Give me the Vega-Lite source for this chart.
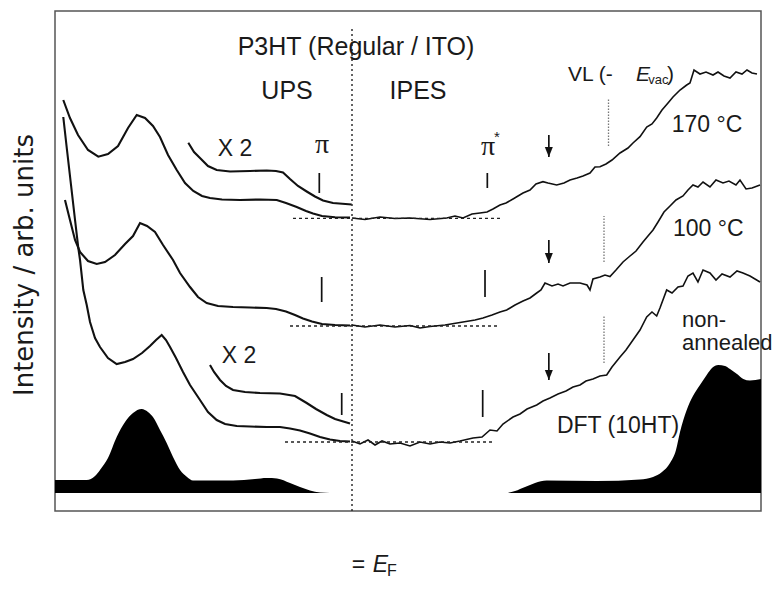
{
  "$schema": "https://vega.github.io/schema/vega-lite/v6.json",
  "width": 706,
  "height": 500,
  "autosize": "none",
  "padding": {"left": 55, "top": 11, "right": 17, "bottom": 101},
  "background": "white",
  "config": {"view": {"stroke": "#555", "strokeWidth": 1.5}, "axis": {"zindex": 1}},
  "datasets": {
    "curves": [
      {"s":"u170","x":4.741,"y":411},{"s":"u170","x":4.631,"y":393},{"s":"u170","x":4.499,"y":376},{"s":"u170","x":4.335,"y":361},{"s":"u170","x":4.166,"y":354.3},{"s":"u170","x":4.007,"y":357},{"s":"u170","x":3.842,"y":365},{"s":"u170","x":3.678,"y":383},{"s":"u170","x":3.535,"y":396},{"s":"u170","x":3.399,"y":393},{"s":"u170","x":3.268,"y":385},{"s":"u170","x":3.153,"y":374},{"s":"u170","x":3.021,"y":356},{"s":"u170","x":2.878,"y":341},{"s":"u170","x":2.742,"y":328},{"s":"u170","x":2.606,"y":320},{"s":"u170","x":2.463,"y":315},{"s":"u170","x":2.332,"y":313},{"s":"u170","x":2.135,"y":311.5},{"s":"u170","x":1.839,"y":311},{"s":"u170","x":1.511,"y":311.5},{"s":"u170","x":1.236,"y":311},{"s":"u170","x":1.084,"y":308},{"s":"u170","x":0.908,"y":304},{"s":"u170","x":0.755,"y":300},{"s":"u170","x":0.640,"y":297.5},{"s":"u170","x":0.493,"y":295},{"s":"u170","x":0.279,"y":293.7},{"s":"u170","x":0.033,"y":293.5},
      {"s":"x170","x":2.688,"y":368.3},{"s":"x170","x":2.594,"y":359},{"s":"x170","x":2.496,"y":353},{"s":"x170","x":2.365,"y":345},{"s":"x170","x":2.222,"y":341},{"s":"x170","x":2.003,"y":339.5},{"s":"x170","x":1.675,"y":340},{"s":"x170","x":1.401,"y":340.5},{"s":"x170","x":1.248,"y":340},{"s":"x170","x":1.133,"y":338.5},{"s":"x170","x":1.018,"y":332},{"s":"x170","x":0.887,"y":325},{"s":"x170","x":0.744,"y":319.5},{"s":"x170","x":0.608,"y":314.5},{"s":"x170","x":0.476,"y":310.5},{"s":"x170","x":0.312,"y":308},{"s":"x170","x":0.005,"y":306.5},
      {"s":"i170","x":0,"y":293},{"s":"i170","x":-0.213,"y":291.5},{"s":"i170","x":-0.46,"y":294},{"s":"i170","x":-0.706,"y":292.5},{"s":"i170","x":-0.952,"y":293},{"s":"i170","x":-1.281,"y":291.5},{"s":"i170","x":-1.555,"y":293},{"s":"i170","x":-1.691,"y":295},{"s":"i170","x":-1.823,"y":293},{"s":"i170","x":-1.97,"y":297},{"s":"i170","x":-2.102,"y":298},{"s":"i170","x":-2.217,"y":299},{"s":"i170","x":-2.315,"y":302},{"s":"i170","x":-2.43,"y":306},{"s":"i170","x":-2.529,"y":308},{"s":"i170","x":-2.644,"y":312},{"s":"i170","x":-2.726,"y":315},{"s":"i170","x":-2.808,"y":318},{"s":"i170","x":-2.923,"y":321},{"s":"i170","x":-3.021,"y":327},{"s":"i170","x":-3.136,"y":329.3},{"s":"i170","x":-3.218,"y":328},{"s":"i170","x":-3.361,"y":326},{"s":"i170","x":-3.481,"y":328},{"s":"i170","x":-3.58,"y":331},{"s":"i170","x":-3.695,"y":333},{"s":"i170","x":-3.793,"y":335},{"s":"i170","x":-3.908,"y":338},{"s":"i170","x":-3.99,"y":344},{"s":"i170","x":-4.072,"y":344.3},{"s":"i170","x":-4.171,"y":347},{"s":"i170","x":-4.269,"y":351},{"s":"i170","x":-4.401,"y":358},{"s":"i170","x":-4.532,"y":363},{"s":"i170","x":-4.614,"y":368},{"s":"i170","x":-4.729,"y":374.3},{"s":"i170","x":-4.839,"y":384},{"s":"i170","x":-4.926,"y":387},{"s":"i170","x":-5.003,"y":393},{"s":"i170","x":-5.09,"y":401},{"s":"i170","x":-5.189,"y":408},{"s":"i170","x":-5.271,"y":414},{"s":"i170","x":-5.386,"y":421},{"s":"i170","x":-5.496,"y":426},{"s":"i170","x":-5.55,"y":428},{"s":"i170","x":-5.616,"y":441},{"s":"i170","x":-5.714,"y":437},{"s":"i170","x":-5.813,"y":439},{"s":"i170","x":-5.928,"y":436},{"s":"i170","x":-6.01,"y":439},{"s":"i170","x":-6.108,"y":435},{"s":"i170","x":-6.207,"y":433},{"s":"i170","x":-6.305,"y":439},{"s":"i170","x":-6.404,"y":437},{"s":"i170","x":-6.486,"y":441},{"s":"i170","x":-6.568,"y":438},{"s":"i170","x":-6.65,"y":437},
      {"s":"u100","x":4.713,"y":311},{"s":"u100","x":4.631,"y":291},{"s":"u100","x":4.548,"y":271},{"s":"u100","x":4.466,"y":259},{"s":"u100","x":4.335,"y":250},{"s":"u100","x":4.192,"y":247},{"s":"u100","x":4.056,"y":249},{"s":"u100","x":3.892,"y":256},{"s":"u100","x":3.727,"y":267},{"s":"u100","x":3.596,"y":275},{"s":"u100","x":3.481,"y":288},{"s":"u100","x":3.366,"y":285},{"s":"u100","x":3.235,"y":279},{"s":"u100","x":3.103,"y":266},{"s":"u100","x":2.939,"y":251},{"s":"u100","x":2.824,"y":238},{"s":"u100","x":2.66,"y":224},{"s":"u100","x":2.529,"y":214},{"s":"u100","x":2.386,"y":208},{"s":"u100","x":2.2,"y":205},{"s":"u100","x":1.954,"y":204},{"s":"u100","x":1.675,"y":203.5},{"s":"u100","x":1.401,"y":203},{"s":"u100","x":1.248,"y":202},{"s":"u100","x":1.084,"y":199.5},{"s":"u100","x":0.936,"y":196},{"s":"u100","x":0.805,"y":192.5},{"s":"u100","x":0.657,"y":189.5},{"s":"u100","x":0.493,"y":187},{"s":"u100","x":0.279,"y":186},{"s":"u100","x":0.033,"y":185.5},
      {"s":"i100","x":0,"y":186},{"s":"i100","x":-0.213,"y":184},{"s":"i100","x":-0.46,"y":186},{"s":"i100","x":-0.706,"y":184},{"s":"i100","x":-0.952,"y":185.5},{"s":"i100","x":-1.117,"y":183},{"s":"i100","x":-1.281,"y":184.5},{"s":"i100","x":-1.527,"y":186},{"s":"i100","x":-1.823,"y":189},{"s":"i100","x":-2.02,"y":191},{"s":"i100","x":-2.151,"y":193},{"s":"i100","x":-2.299,"y":196},{"s":"i100","x":-2.43,"y":199},{"s":"i100","x":-2.54,"y":201},{"s":"i100","x":-2.677,"y":206},{"s":"i100","x":-2.808,"y":210},{"s":"i100","x":-2.923,"y":213},{"s":"i100","x":-3.033,"y":218},{"s":"i100","x":-3.103,"y":221},{"s":"i100","x":-3.169,"y":228},{"s":"i100","x":-3.284,"y":225},{"s":"i100","x":-3.383,"y":227},{"s":"i100","x":-3.465,"y":225},{"s":"i100","x":-3.58,"y":228},{"s":"i100","x":-3.744,"y":228},{"s":"i100","x":-3.859,"y":226},{"s":"i100","x":-3.908,"y":221},{"s":"i100","x":-3.957,"y":232},{"s":"i100","x":-4.072,"y":234},{"s":"i100","x":-4.154,"y":236},{"s":"i100","x":-4.236,"y":234.5},{"s":"i100","x":-4.335,"y":241},{"s":"i100","x":-4.45,"y":249},{"s":"i100","x":-4.565,"y":255},{"s":"i100","x":-4.664,"y":260},{"s":"i100","x":-4.778,"y":269},{"s":"i100","x":-4.86,"y":275},{"s":"i100","x":-4.943,"y":281},{"s":"i100","x":-5.025,"y":289},{"s":"i100","x":-5.123,"y":299},{"s":"i100","x":-5.222,"y":305},{"s":"i100","x":-5.32,"y":311},{"s":"i100","x":-5.435,"y":315},{"s":"i100","x":-5.517,"y":321},{"s":"i100","x":-5.599,"y":326},{"s":"i100","x":-5.681,"y":324},{"s":"i100","x":-5.764,"y":329},{"s":"i100","x":-5.878,"y":324},{"s":"i100","x":-5.977,"y":331},{"s":"i100","x":-6.092,"y":328},{"s":"i100","x":-6.19,"y":330},{"s":"i100","x":-6.305,"y":326},{"s":"i100","x":-6.371,"y":331},{"s":"i100","x":-6.47,"y":322},{"s":"i100","x":-6.568,"y":323},{"s":"i100","x":-6.7,"y":326},
      {"s":"unon","x":4.741,"y":394},{"s":"unon","x":4.68,"y":361},{"s":"unon","x":4.614,"y":326},{"s":"unon","x":4.548,"y":291},{"s":"unon","x":4.494,"y":263},{"s":"unon","x":4.466,"y":251},{"s":"unon","x":4.412,"y":221},{"s":"unon","x":4.356,"y":206},{"s":"unon","x":4.302,"y":189},{"s":"unon","x":4.22,"y":173},{"s":"unon","x":4.138,"y":164},{"s":"unon","x":4.007,"y":153},{"s":"unon","x":3.864,"y":147},{"s":"unon","x":3.727,"y":149},{"s":"unon","x":3.596,"y":152},{"s":"unon","x":3.448,"y":158},{"s":"unon","x":3.317,"y":165},{"s":"unon","x":3.218,"y":171},{"s":"unon","x":3.125,"y":176},{"s":"unon","x":3.054,"y":171},{"s":"unon","x":2.988,"y":164},{"s":"unon","x":2.89,"y":153},{"s":"unon","x":2.775,"y":139},{"s":"unon","x":2.66,"y":126},{"s":"unon","x":2.496,"y":111},{"s":"unon","x":2.365,"y":99},{"s":"unon","x":2.222,"y":91},{"s":"unon","x":2.085,"y":87},{"s":"unon","x":1.893,"y":85},{"s":"unon","x":1.675,"y":84.5},{"s":"unon","x":1.401,"y":84},{"s":"unon","x":1.182,"y":84},{"s":"unon","x":1.018,"y":82.5},{"s":"unon","x":0.854,"y":80.5},{"s":"unon","x":0.69,"y":77.5},{"s":"unon","x":0.525,"y":74},{"s":"unon","x":0.361,"y":71.5},{"s":"unon","x":0.197,"y":70},{"s":"unon","x":0.033,"y":69.5},
      {"s":"xnon","x":2.332,"y":146},{"s":"xnon","x":2.266,"y":139},{"s":"xnon","x":2.167,"y":131},{"s":"xnon","x":2.069,"y":125},{"s":"xnon","x":1.954,"y":121},{"s":"xnon","x":1.757,"y":119},{"s":"xnon","x":1.511,"y":118},{"s":"xnon","x":1.182,"y":117.5},{"s":"xnon","x":0.936,"y":115},{"s":"xnon","x":0.744,"y":108},{"s":"xnon","x":0.591,"y":102},{"s":"xnon","x":0.415,"y":96},{"s":"xnon","x":0.279,"y":92},{"s":"xnon","x":0.033,"y":87.5},
      {"s":"inon","x":0,"y":70},{"s":"inon","x":-0.131,"y":67},{"s":"inon","x":-0.263,"y":71},{"s":"inon","x":-0.378,"y":66},{"s":"inon","x":-0.493,"y":70},{"s":"inon","x":-0.624,"y":67},{"s":"inon","x":-0.788,"y":68},{"s":"inon","x":-0.952,"y":65},{"s":"inon","x":-1.117,"y":69},{"s":"inon","x":-1.281,"y":67},{"s":"inon","x":-1.445,"y":69},{"s":"inon","x":-1.609,"y":68},{"s":"inon","x":-1.773,"y":70},{"s":"inon","x":-1.987,"y":73},{"s":"inon","x":-2.135,"y":74},{"s":"inon","x":-2.266,"y":81},{"s":"inon","x":-2.381,"y":80},{"s":"inon","x":-2.479,"y":87},{"s":"inon","x":-2.644,"y":94},{"s":"inon","x":-2.759,"y":97},{"s":"inon","x":-2.874,"y":102},{"s":"inon","x":-3.033,"y":106},{"s":"inon","x":-3.136,"y":110},{"s":"inon","x":-3.251,"y":113},{"s":"inon","x":-3.383,"y":117},{"s":"inon","x":-3.514,"y":120},{"s":"inon","x":-3.629,"y":124},{"s":"inon","x":-3.744,"y":126},{"s":"inon","x":-3.842,"y":130},{"s":"inon","x":-3.957,"y":132},{"s":"inon","x":-4.072,"y":135},{"s":"inon","x":-4.182,"y":136},{"s":"inon","x":-4.269,"y":144},{"s":"inon","x":-4.401,"y":154},{"s":"inon","x":-4.499,"y":161},{"s":"inon","x":-4.614,"y":171},{"s":"inon","x":-4.729,"y":181},{"s":"inon","x":-4.839,"y":194},{"s":"inon","x":-4.926,"y":199},{"s":"inon","x":-5.003,"y":195},{"s":"inon","x":-5.057,"y":203},{"s":"inon","x":-5.167,"y":221},{"s":"inon","x":-5.255,"y":218},{"s":"inon","x":-5.353,"y":224},{"s":"inon","x":-5.435,"y":225},{"s":"inon","x":-5.517,"y":235},{"s":"inon","x":-5.599,"y":238},{"s":"inon","x":-5.681,"y":229},{"s":"inon","x":-5.764,"y":241},{"s":"inon","x":-5.878,"y":238},{"s":"inon","x":-5.977,"y":231},{"s":"inon","x":-6.076,"y":237},{"s":"inon","x":-6.207,"y":234},{"s":"inon","x":-6.322,"y":240},{"s":"inon","x":-6.42,"y":238},{"s":"inon","x":-6.535,"y":235},{"s":"inon","x":-6.7,"y":229}
    ],
    "dft": [
      {"x":4.877,"y":31},{"x":4.356,"y":31},{"x":4.22,"y":35},{"x":4.138,"y":41},{"x":4.007,"y":53},{"x":3.864,"y":74},{"x":3.727,"y":89},{"x":3.596,"y":98},{"x":3.453,"y":102},{"x":3.35,"y":99},{"x":3.268,"y":94},{"x":3.153,"y":81},{"x":3.043,"y":68},{"x":2.939,"y":54},{"x":2.824,"y":41},{"x":2.709,"y":34},{"x":2.611,"y":30.5},{"x":1.954,"y":30.5},{"x":1.593,"y":32},{"x":1.401,"y":33},{"x":1.232,"y":32.5},{"x":1.018,"y":28},{"x":0.854,"y":24},{"x":0.69,"y":20.5},{"x":0.525,"y":18.5},{"x":0.361,"y":18},{"x":-2.512,"y":18},{"x":-2.677,"y":20},{"x":-2.841,"y":24},{"x":-3.005,"y":28},{"x":-3.197,"y":30.5},{"x":-4.018,"y":30},{"x":-4.729,"y":31.5},{"x":-4.943,"y":34},{"x":-5.09,"y":39},{"x":-5.222,"y":48},{"x":-5.32,"y":61},{"x":-5.386,"y":79},{"x":-5.496,"y":101},{"x":-5.599,"y":115},{"x":-5.714,"y":126},{"x":-5.824,"y":136},{"x":-5.911,"y":143},{"x":-6.015,"y":146},{"x":-6.125,"y":145},{"x":-6.207,"y":142},{"x":-6.322,"y":137},{"x":-6.425,"y":132},{"x":-6.535,"y":130.5},{"x":-6.716,"y":132}
    ]
  },
  "layer": [
    {
      "data": {"name": "dft"},
      "mark": {"type": "area", "color": "#000", "interpolate": "monotone"},
      "encoding": {
        "x": {"field": "x", "type": "quantitative", "scale": {"domain": [-6.716, 4.877], "reverse": true, "nice": false, "zero": false},
          "axis": {"orient": "bottom", "offset": -15, "title": "Binding Energy / eV", "titleFont": "DejaVu Sans", "titleFontSize": 25, "titleFontWeight": "normal", "titleColor": "#1a1a1a", "titleBaseline": "alphabetic", "titleY": 110,
            "values": [-6, -5, -4, -3, -2, -1, 0, 1, 2, 3, 4],
            "domain": false, "grid": false, "ticks": true, "tickColor": "#333", "tickWidth": 1.3, "tickSize": 15,
            "labelExpr": "'' + round(datum.value)",
            "labelFont": "Liberation Sans", "labelFontSize": 22, "labelColor": "#1a1a1a", "labelBaseline": "alphabetic", "labelPadding": 29, "labelOverlap": false, "labelFlush": false, "labelBound": false}},
        "y": {"field": "y", "type": "quantitative", "scale": {"domain": [0, 500], "nice": false, "zero": false}, "axis": null},
        "y2": {"datum": 18}
      }
    },
    {
      "data": {"name": "curves"},
      "transform": [{"filter": "indexof(datum.s, 'i') !== 0"}],
      "mark": {"type": "line", "color": "#111", "strokeWidth": 2.1},
      "encoding": {
        "x": {"field": "x", "type": "quantitative", "axis": null},
        "y": {"field": "y", "type": "quantitative", "axis": null},
        "detail": {"field": "s", "type": "nominal"}
      }
    },
    {
      "data": {"name": "curves"},
      "transform": [{"filter": "indexof(datum.s, 'i') === 0"}],
      "mark": {"type": "line", "color": "#111", "strokeWidth": 1.6},
      "encoding": {
        "x": {"field": "x", "type": "quantitative", "axis": null},
        "y": {"field": "y", "type": "quantitative", "axis": null},
        "detail": {"field": "s", "type": "nominal"}
      }
    },
    {
      "data": {"values": [{"x": 0.969, "x2": -2.463, "y": 292.7}, {"x": 1.018, "x2": -2.397, "y": 185}, {"x": 1.1, "x2": -2.315, "y": 69}]},
      "mark": {"type": "rule", "color": "#222", "strokeWidth": 1.3, "strokeDash": [3, 3]},
      "encoding": {"x": {"field": "x", "type": "quantitative", "axis": null}, "x2": {"field": "x2"}, "y": {"field": "y", "type": "quantitative", "axis": null}}
    },
    {
      "data": {"values": [{"x": 0, "y": 0, "y2": 482}]},
      "mark": {"type": "rule", "color": "#222", "strokeWidth": 1.4, "strokeDash": [2, 3]},
      "encoding": {"x": {"field": "x", "type": "quantitative", "axis": null}, "y": {"field": "y", "type": "quantitative", "axis": null}, "y2": {"field": "y2"}}
    },
    {
      "data": {"values": [{"x": -4.212, "y": 365, "y2": 413}, {"x": -4.138, "y": 249, "y2": 295}, {"x": -4.138, "y": 148, "y2": 196}]},
      "mark": {"type": "rule", "color": "#777", "strokeWidth": 1.3, "strokeDash": [1.5, 1.5]},
      "encoding": {"x": {"field": "x", "type": "quantitative", "axis": null}, "y": {"field": "y", "type": "quantitative", "axis": null}, "y2": {"field": "y2"}}
    },
    {
      "data": {"values": [{"x": 0.537, "y": 318, "y2": 338}, {"x": -2.222, "y": 323, "y2": 338}, {"x": 0.498, "y": 209, "y2": 234}, {"x": -2.184, "y": 214, "y2": 241}, {"x": 0.169, "y": 96, "y2": 118}, {"x": -2.146, "y": 94, "y2": 121}]},
      "mark": {"type": "rule", "color": "#111", "strokeWidth": 1.7},
      "encoding": {"x": {"field": "x", "type": "quantitative", "axis": null}, "y": {"field": "y", "type": "quantitative", "axis": null}, "y2": {"field": "y2"}}
    },
    {
      "data": {"values": [{"x": -3.232, "y": 376, "tip": 354}, {"x": -3.232, "y": 271, "tip": 248}, {"x": -3.232, "y": 158, "tip": 131}]},
      "mark": {"type": "rule", "color": "#111", "strokeWidth": 1.7},
      "encoding": {"x": {"field": "x", "type": "quantitative", "axis": null}, "y": {"field": "y", "type": "quantitative", "axis": null}, "y2": {"field": "tip"}}
    },
    {
      "data": {"values": [{"x": -3.232, "y": 354}, {"x": -3.232, "y": 248}, {"x": -3.232, "y": 131}]},
      "mark": {"type": "point", "shape": "M-0.8,-2L0.8,-2L0,0Z", "size": 100, "filled": true, "color": "#111", "opacity": 1},
      "encoding": {"x": {"field": "x", "type": "quantitative", "axis": null}, "y": {"field": "y", "type": "quantitative", "axis": null}}
    },
    {
      "data": {"values": [{"t": "Intensity / arb. units", "x": 5.238, "y": 246}]},
      "mark": {"type": "text", "font": "DejaVu Sans", "fontSize": 26, "angle": 270, "color": "#1a1a1a", "align": "center", "baseline": "alphabetic"},
      "encoding": {"x": {"field": "x", "type": "quantitative", "axis": null}, "y": {"field": "y", "type": "quantitative", "axis": null}, "text": {"field": "t"}}
    },
    {
      "data": {"values": [{"t": "P3HT (Regular / ITO)", "x": -0.066, "y": 464}, {"t": "UPS", "x": 1.067, "y": 420}, {"t": "IPES", "x": -1.084, "y": 420}]},
      "mark": {"type": "text", "font": "Liberation Sans", "fontSize": 25, "color": "#1a1a1a", "align": "center", "baseline": "middle"},
      "encoding": {"x": {"field": "x", "type": "quantitative", "axis": null}, "y": {"field": "y", "type": "quantitative", "axis": null}, "text": {"field": "t"}}
    },
    {
      "data": {"values": [{"t": "X 2", "x": 1.921, "y": 362}, {"t": "X 2", "x": 1.856, "y": 155}, {"t": "170 °C", "x": -5.829, "y": 386}, {"t": "100 °C", "x": -5.85, "y": 282}, {"t": "DFT (10HT)", "x": -4.368, "y": 85}]},
      "mark": {"type": "text", "font": "Liberation Sans", "fontSize": 23, "color": "#1a1a1a", "align": "center", "baseline": "middle"},
      "encoding": {"x": {"field": "x", "type": "quantitative", "axis": null}, "y": {"field": "y", "type": "quantitative", "axis": null}, "text": {"field": "t"}}
    },
    {
      "data": {"values": [{"t": "non-\nannealed", "x": -5.419, "y": 191.5}]},
      "mark": {"type": "text", "font": "Liberation Sans", "fontSize": 22, "lineHeight": 23, "lineBreak": "\n", "color": "#1a1a1a", "align": "left", "baseline": "middle"},
      "encoding": {"x": {"field": "x", "type": "quantitative", "axis": null}, "y": {"field": "y", "type": "quantitative", "axis": null}, "text": {"field": "t"}}
    },
    {
      "data": {"values": [{"t": "VL (-", "x": -3.547, "y": 436}]},
      "mark": {"type": "text", "font": "Liberation Sans", "fontSize": 21, "color": "#1a1a1a", "align": "left", "baseline": "middle"},
      "encoding": {"x": {"field": "x", "type": "quantitative", "axis": null}, "y": {"field": "y", "type": "quantitative", "axis": null}, "text": {"field": "t"}}
    },
    {
      "data": {"values": [{"t": ")", "x": -5.23, "y": 436}]},
      "mark": {"type": "text", "font": "Liberation Sans", "fontSize": 21, "color": "#1a1a1a", "align": "center", "baseline": "middle"},
      "encoding": {"x": {"field": "x", "type": "quantitative", "axis": null}, "y": {"field": "y", "type": "quantitative", "axis": null}, "text": {"field": "t"}}
    },
    {
      "data": {"values": [{"t": "E", "x": -4.78, "y": 436}]},
      "mark": {"type": "text", "font": "Liberation Sans", "fontSize": 21, "fontStyle": "italic", "color": "#1a1a1a", "align": "center", "baseline": "middle"},
      "encoding": {"x": {"field": "x", "type": "quantitative", "axis": null}, "y": {"field": "y", "type": "quantitative", "axis": null}, "text": {"field": "t"}}
    },
    {
      "data": {"values": [{"t": "vac", "x": -5.03, "y": 431}]},
      "mark": {"type": "text", "font": "Liberation Sans", "fontSize": 13, "color": "#1a1a1a", "align": "center", "baseline": "middle"},
      "encoding": {"x": {"field": "x", "type": "quantitative", "axis": null}, "y": {"field": "y", "type": "quantitative", "axis": null}, "text": {"field": "t"}}
    },
    {
      "data": {"values": [{"t": "E", "x": -0.468, "y": -54}]},
      "mark": {"type": "text", "font": "Liberation Sans", "fontSize": 23, "fontStyle": "italic", "color": "#1a1a1a", "align": "center", "baseline": "middle"},
      "encoding": {"x": {"field": "x", "type": "quantitative", "axis": null}, "y": {"field": "y", "type": "quantitative", "axis": null}, "text": {"field": "t"}}
    },
    {
      "data": {"values": [{"t": "F", "x": -0.657, "y": -60}]},
      "mark": {"type": "text", "font": "Liberation Sans", "fontSize": 16, "color": "#1a1a1a", "align": "center", "baseline": "middle"},
      "encoding": {"x": {"field": "x", "type": "quantitative", "axis": null}, "y": {"field": "y", "type": "quantitative", "axis": null}, "text": {"field": "t"}}
    },
    {
      "data": {"values": [{"t": "=", "x": -0.107, "y": -54}]},
      "mark": {"type": "text", "font": "Liberation Sans", "fontSize": 23, "color": "#1a1a1a", "align": "center", "baseline": "middle"},
      "encoding": {"x": {"field": "x", "type": "quantitative", "axis": null}, "y": {"field": "y", "type": "quantitative", "axis": null}, "text": {"field": "t"}}
    },
    {
      "data": {"values": [{"t": "π", "x": 0.493, "y": 366}, {"t": "π", "x": -2.233, "y": 364}]},
      "mark": {"type": "text", "font": "Liberation Serif", "fontSize": 28, "color": "#1a1a1a", "align": "center", "baseline": "middle"},
      "encoding": {"x": {"field": "x", "type": "quantitative", "axis": null}, "y": {"field": "y", "type": "quantitative", "axis": null}, "text": {"field": "t"}}
    },
    {
      "data": {"values": [{"t": "*", "x": -2.381, "y": 374}]},
      "mark": {"type": "text", "font": "Liberation Sans", "fontSize": 15, "color": "#1a1a1a", "align": "center", "baseline": "middle"},
      "encoding": {"x": {"field": "x", "type": "quantitative", "axis": null}, "y": {"field": "y", "type": "quantitative", "axis": null}, "text": {"field": "t"}}
    }
  ]
}
